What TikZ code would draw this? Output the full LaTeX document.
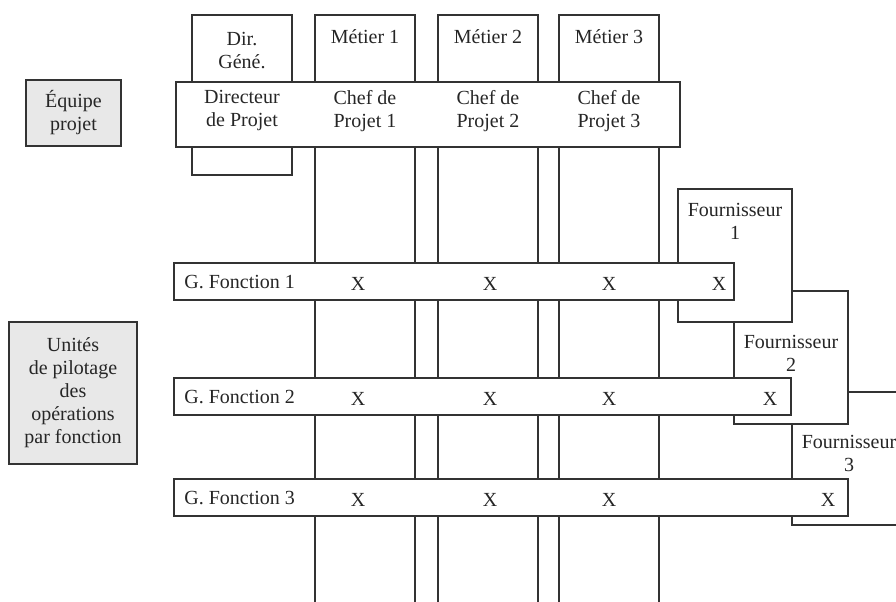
\documentclass[tikz,border=0pt]{standalone}
\usepackage{fontspec}
\setmainfont{Liberation Serif}
\begin{document}
\begin{tikzpicture}[x=0.5pt,y=-0.5pt,
  every node/.style={font=\fontsize{10}{11.5}\selectfont,align=center,inner sep=0pt,text=black!85},
  box/.style={draw=black!80,line width=0.6pt,fill=white},
  greybox/.style={box,fill=gray!18}]
\useasboundingbox (0,0) rectangle (896,601);
\clip (0,0) rectangle (896,601);
% colonnes
\draw[box] (192,15) rectangle (292,175);
\foreach \xa/\xb in {315/415,438/538,559/659}
  \draw[box] (\xa,15) rectangle (\xb,612);
% equipe projet
\draw[box] (176,82) rectangle (680,147);
% fournisseurs
\draw[box] (792,392) rectangle (906,525);
\draw[box] (734,291) rectangle (848,424);
\draw[box] (678,189) rectangle (792,322);
% fonctions
\draw[box] (174,263) rectangle (734,300);
\draw[box] (174,378) rectangle (791,415);
\draw[box] (174,479) rectangle (848,516);
% legendes
\draw[greybox] (26,80) rectangle (121,146);
\draw[greybox] (9,322) rectangle (137,464);

\node (eq) at (73.5,113) {Équipe\\projet};
\node (up) at (73,393) {Unités\\de pilotage\\des\\opérations\\par fonction};

\node (dg) at (242,51) {Dir.\\Géné.};
\node (m1) at (365,37) {Métier 1};
\node (m2) at (488,37) {Métier 2};
\node (m3) at (609,37) {Métier 3};

\node (dp) at (242,111) {Directeur\\de Projet};
\node (cp1) at (365,111) {Chef de\\Projet 1};
\node (cp2) at (488,111) {Chef de\\Projet 2};
\node (cp3) at (609,111) {Chef de\\Projet 3};

\node (f1) at (735,221) {Fournisseur\\1};
\node (f2) at (791,353.5) {Fournisseur\\2};
\node (f3) at (849,453.5) {Fournisseur\\3};

\foreach \r/\y/\xl in {1/282.5/719,2/397.5/770,3/498.5/828} {
  \node[anchor=west] (g\r) at (184,\y) {G. Fonction \r};
  \foreach \x [count=\i] in {358,490,609,\xl}
    \node (x\r\i) at (\x,\y+1.5) {X};
}
\end{tikzpicture}
\end{document}
